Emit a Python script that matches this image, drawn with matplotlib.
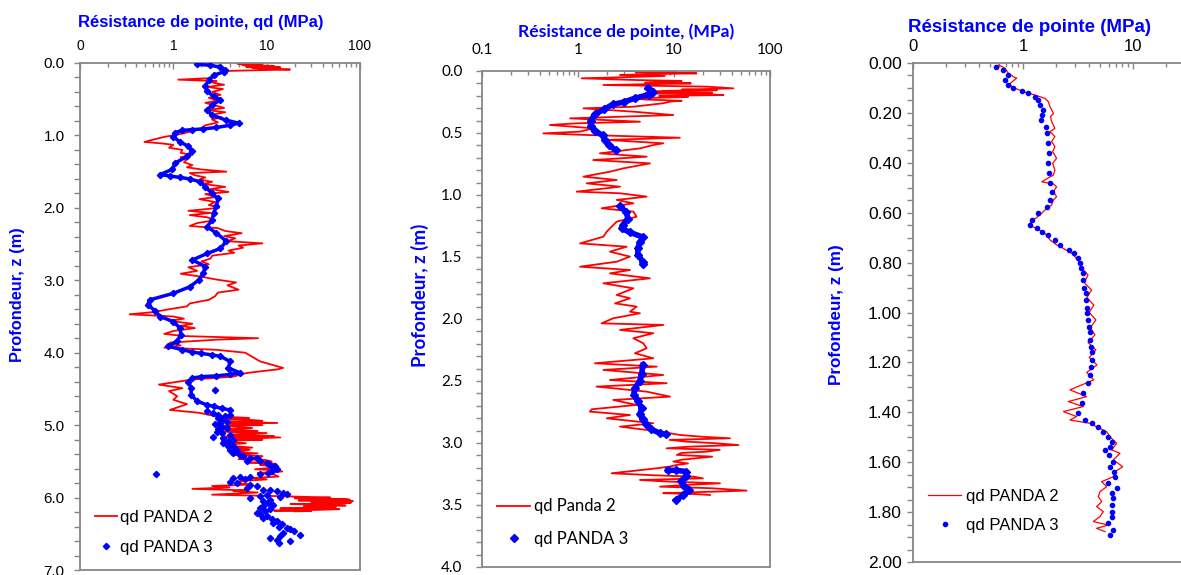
import numpy as np
import matplotlib
matplotlib.use('Agg')
import matplotlib.pyplot as plt
from matplotlib.ticker import LogLocator, FixedLocator, MultipleLocator, FixedFormatter, NullFormatter, FormatStrFormatter

# ---------------- DATA ----------------
# Panel 1 : PANDA 2 (red line)
p1_red_z = [0.00,0.01,0.02,0.03,0.04,0.05,0.06,0.07,0.08,0.09,0.11,0.14,0.17,0.19,0.21,0.23,0.25,0.27,0.30,0.33,
            0.36,0.40,0.44,0.48,0.52,0.55,0.58,0.62,0.65,0.68,0.72,0.75,0.78,0.82,0.86,0.90,0.94,0.98,1.02,1.06,
            1.09,1.11,1.13,1.17,1.20,1.24,1.27,1.30,1.33,1.37,1.41,1.44,1.47,1.50,1.52,1.55,1.58,1.61,1.64,1.67,
            1.71,1.74,1.78,1.81,1.85,1.88,1.92,1.96,2.00,2.04,2.07,2.10,2.13,2.17,2.21,2.25,2.28,2.32,2.35,2.39,
            2.42,2.46,2.49,2.52,2.55,2.59,2.62,2.66,2.70,2.74,2.78,2.82,2.87,2.91,2.95,2.99,3.03,3.07,3.13,3.17,
            3.22,3.27,3.32,3.36,3.40,3.44,3.47,3.50,3.53,3.56,3.60,3.63,3.66,3.70,3.74,3.77,3.80,3.82,3.86,3.90,
            3.93,3.96,4.00,4.12,4.21,4.23,4.28,4.33,4.37,4.44,4.49,4.53,4.60,4.65,4.71,4.79,4.83,4.88,
            4.90,4.91,4.92,4.94,4.95,4.97,4.98,5.00,5.01,5.02,5.04,5.06,5.08,5.09,5.11,5.13,5.15,5.16,5.17,5.19,
            5.20,5.22,5.25,5.27,5.29,5.31,5.32,5.34,5.37,5.39,5.41,5.43,5.45,5.47,5.48,5.50,5.52,5.53,5.55,5.57,
            5.59,5.61,5.62,5.64,5.66,5.68,5.71,5.73,5.75,5.77,5.80,5.82,5.84,5.86,5.88,5.90,5.91,5.93,5.96,5.98,
            6.00,6.01,6.02,6.03,6.04,6.05,6.06,6.07,6.08,6.09,6.10,6.11,6.12,6.13,6.14,6.15,6.16,6.17,6.18,6.185,6.19]
p1_red_qd = [6.6,4.9,9.0,5.5,12,6.0,14,7.0,10,17.8,3.6,3.2,2.6,2.9,2.4,1.13,2.9,2.6,3.5,2.3,
             3.4,2.6,3.2,2.4,3.0,2.2,2.7,3.5,2.3,3.6,2.5,3.3,2.6,3.0,2.2,2.0,1.6,1.2,0.8,0.6,
             0.49,0.75,1.0,0.9,1.25,1.2,1.6,1.2,1.4,1.3,1.6,1.4,2.0,3.7,1.5,1.7,2.2,1.9,2.6,2.1,
             3.6,2.5,3.9,2.2,2.9,1.9,2.8,2.4,3.1,1.45,2.5,1.5,2.3,2.8,1.8,1.5,3.0,3.6,5.4,3.5,
             4.6,3.8,9.0,5.0,5.6,3.9,4.5,2.6,2.5,2.0,2.4,1.45,1.8,1.2,2.0,2.9,4.7,3.8,5.0,3.0,
             2.8,2.4,1.5,1.4,0.9,0.6,0.34,1.0,1.3,0.9,1.6,1.2,1.7,1.0,0.8,1.3,8.1,2.9,0.92,1.2,
             0.8,2.9,5.9,8.5,15,13,6.1,4.4,1.6,0.7,1.25,0.9,1.1,1.0,1.4,0.92,1.9,2.9,
             6.5,3.2,5.6,9.0,3.5,13,4.0,9.0,3.0,4.4,7.0,3.4,8.0,3.2,10,4.0,12,3.5,14,4.5,
             9.0,3.3,6.0,3.6,4.4,7.0,3.8,6.6,4.5,8.0,4.2,9.0,7.8,5.0,9.5,11.3,6.0,12,8.5,13,
             10.9,7.5,12,14.7,8.0,12,13.4,7.0,10,5.5,4.8,7.0,2.6,4.0,1.6,6.0,4.4,8.0,2.6,13,
             48,20,70,78,22,84,30,80,60,18,50,70,25,55,45,14,60,35,12,30,20]

# Panel 1 : PANDA 3 (blue points, continuous part)
p1_blue_z = [0.02,0.03,0.06,0.10,0.12,0.17,0.23,0.32,0.39,0.46,0.51,0.58,0.65,0.72,0.79,0.83,0.86,0.89,0.91,0.92,
             0.93,0.96,1.02,1.09,1.15,1.22,1.29,1.38,1.47,1.54,1.56,1.58,1.60,1.64,1.71,1.80,1.87,1.98,2.07,2.17,
             2.26,2.35,2.46,2.56,2.63,2.72,2.81,2.90,2.99,3.09,3.18,3.27,3.34,3.42,3.50,3.57,3.66,3.75,3.84,3.91,
             3.96,3.99,4.01,4.03,4.05,4.12,4.21,4.28,4.30,4.32,4.33,4.35,4.40,4.49,4.58,4.67,4.72,4.74,4.77,4.79]
p1_blue_qd = [1.8,2.5,3.2,3.6,3.5,2.7,2.4,2.2,2.3,2.7,3.2,2.6,2.3,2.6,3.7,5.0,4.05,2.9,2.1,1.6,
              1.25,1.05,1.0,1.18,1.45,1.6,1.4,1.05,0.97,0.72,0.92,1.18,1.5,1.93,2.2,2.6,3.0,2.9,2.7,2.6,
              2.3,2.9,3.7,3.2,2.3,1.6,2.2,2.1,1.9,1.5,1.0,0.56,0.53,0.64,0.72,1.0,1.18,1.2,1.1,0.88,
              1.25,1.6,2.0,2.6,3.2,4.05,3.9,5.2,4.05,2.9,2.0,1.6,1.45,1.55,1.55,1.8,2.3,2.7,3.3,4.05]
# Panel 1 : PANDA 3 (blue points, scattered deep part)
p1_scat_z = [4.52,4.81,4.83,4.86,4.86,4.88,4.90,4.92,4.95,4.97,4.99,5.02,5.04,5.06,5.09,5.11,5.13,5.16,5.18,5.20,
             5.22,5.25,5.27,5.29,5.32,5.34,5.36,5.38,5.41,5.43,5.45,5.46,5.49,5.50,5.52,5.55,5.57,5.59,5.61,5.64,
             5.66,5.68,5.68,5.71,5.72,5.73,5.75,5.78,5.80,5.82,5.84,5.87,5.89,5.90,5.91,5.94,5.95,5.96,5.98,5.99,
             6.00,6.03,6.05,6.07,6.10,6.12,6.14,6.16,6.19,6.21,6.23,6.26,6.28,6.30,6.33,6.35,6.37,6.40,6.42,6.44,
             6.46,6.49,6.51,6.53,6.56,6.58,6.60,6.63]
p1_scat_qd = [2.8,2.28,2.69,3.04,4.05,3.58,3.04,3.30,3.73,3.17,2.80,3.30,3.73,3.04,2.92,3.30,4.05,2.69,3.44,4.40,
              3.89,3.44,4.22,3.89,4.58,4.05,4.78,4.40,5.19,5.63,6.64,7.83,6.11,8.50,10.0,10.9,12.3,11.8,12.8,11.3,
              10.4,8.50,0.66,6.64,5.19,4.40,5.87,4.05,4.78,6.64,7.83,6.11,9.23,10.9,12.8,15.1,16.4,10.0,8.50,13.9,
              6.64,10.9,9.23,10.4,11.8,9.23,8.50,10.9,9.61,7.83,8.50,10.0,9.23,11.3,12.8,11.8,14.5,13.4,16.4,17.8,
              19.4,15.1,22.8,13.9,10.9,12.8,17.8,13.4]

# Panel 2 : PANDA 2 (red line)
p2_red_z = [0.00,0.005,0.01,0.015,0.019,0.025,0.032,0.04,0.05,0.059,0.073,0.08,0.086,0.095,0.10,0.113,0.126,0.14,0.15,0.155,
            0.16,0.167,0.175,0.18,0.185,0.194,0.20,0.21,0.22,0.23,0.24,0.247,0.26,0.288,0.301,0.328,0.355,0.382,
            0.409,0.422,0.435,0.462,0.489,0.503,0.516,0.538,0.556,0.583,0.597,0.624,0.664,0.691,0.718,0.745,0.785,0.812,0.852,0.879,
            0.906,0.933,0.973,0.986,1.013,1.04,1.067,1.107,1.134,1.175,1.215,1.242,1.296,1.336,1.39,1.417,1.457,1.497,1.538,1.578,
            1.605,1.632,1.672,1.712,1.753,1.806,1.833,1.874,1.90,1.941,1.954,1.994,2.035,2.048,2.088,2.115,2.155,2.196,2.236,2.276,
            2.317,2.357,2.384,2.411,2.451,2.492,2.518,2.545,2.586,2.626,2.653,2.693,2.728,2.747,2.774,2.801,2.841,2.868,2.908,2.935,
            2.95,2.962,2.975,2.989,3.00,3.016,3.03,3.043,3.055,3.07,3.08,3.096,3.11,3.123,3.135,3.15,3.165,3.177,3.19,3.204,
            3.244,3.26,3.271,3.285,3.298,3.31,3.325,3.34,3.352,3.365,3.384,3.395,3.405,3.41,3.419]
p2_red_qd = [2.97,10.7,4.0,9.0,17.2,6.0,2.74,8.0,3.0,1.09,4.08,12,7.74,5.0,15,1.84,21.9,41.5,12,28,
             8.0,6.09,25,5.0,18,32.7,7.0,14,3.48,5.0,12,9.08,7.74,3.77,1.14,3.77,9.84,0.825,
             4.42,0.97,0.51,1.44,1.05,0.435,1.23,11.5,1.99,7.74,6.09,4.42,1.69,5.19,1.44,5.62,2.97,2.15,1.14,2.53,
             1.23,2.74,0.97,2.74,5.19,2.53,3.77,1.76,3.77,4.08,2.53,2.33,1.99,1.84,1.05,3.21,2.15,3.48,2.53,1.05,
             3.48,2.15,5.62,1.84,3.77,2.53,3.48,2.43,4.08,3.48,4.42,2.33,1.76,7.74,2.74,6.09,3.77,4.79,5.19,3.92,
             6.09,1.50,6.60,1.84,7.74,2.15,8.39,1.56,5.19,9.08,2.33,4.08,1.39,1.33,3.48,1.99,6.09,2.74,7.15,11.5,
             20,38.3,9.0,13.5,25,46.8,14,8.39,30,21.9,12,10.7,25,17.2,12,9.84,14,10.7,9.0,6.60,
             2.24,6.0,15.9,20,4.42,8.0,30.1,12,7.15,25,57.1,20,7.74,15,23.7]

# Panel 2 : PANDA 3 (blue points, nan separates the test runs)
p2_blue_z = [0.14,0.17,0.19,0.22,0.25,0.27,0.31,0.35,0.40,0.44,0.48,0.52,0.56,0.60,0.64, np.nan,
             1.09,1.14,1.19,1.24,1.27,1.30,1.34,1.38,1.43,1.48,1.54,1.56, np.nan,
             2.37,2.44,2.50,2.56,2.61,2.66,2.72,2.77,2.81,2.85,2.89,2.92,2.93, np.nan,
             3.22,3.22,3.23,3.27,3.31,3.35,3.38,3.42,3.46]
p2_blue_qd = [5.3,6.0,5.5,3.9,3.0,2.3,1.85,1.5,1.35,1.35,1.5,1.8,1.9,2.1,2.5, np.nan,
              2.74,3.2,3.3,2.95,2.85,3.45,4.75,4.4,4.2,4.2,4.75,4.8, np.nan,
              4.75,4.6,4.4,3.9,3.8,4.2,4.6,4.4,4.75,5.1,5.8,7.1,8.3, np.nan,
              8.6,10.5,13.3,13.3,11.8,12.8,14.5,12.4,10.5]

# Panel 3 : PANDA 2 (red line)
p3_red_z = [0.008,0.021,0.041,0.055,0.061,0.082,0.095,0.115,0.128,0.142,0.155,0.175,0.202,0.215,0.235,0.262,0.275,0.295,0.315,0.335,
            0.355,0.382,0.402,0.429,0.449,0.476,0.485,0.496,0.516,0.536,0.549,0.569,0.589,0.609,0.629,0.649,0.663,0.683,0.709,0.729,
            0.743,0.763,0.79,0.82,0.85,0.88,0.91,0.94,0.97,1.00,1.03,1.06,1.09,1.12,1.15,1.18,1.21,1.24,1.27,1.31,
            1.337,1.357,1.377,1.397,1.417,1.431,1.444,1.458,1.478,1.498,1.524,1.551,1.564,1.591,1.618,1.638,1.658,1.678,1.698,1.718,
            1.738,1.758,1.778,1.798,1.818,1.838,1.852,1.865,1.878]
p3_red_qd = [0.60,0.686,0.736,0.817,0.876,0.762,0.789,1.007,1.28,1.585,1.70,1.76,1.89,1.78,1.82,1.95,1.76,1.95,1.82,1.95,
             1.86,2.02,1.86,1.95,1.89,1.48,1.89,2.02,1.89,2.02,1.89,1.82,1.585,1.43,1.24,1.118,1.33,1.585,1.76,2.02,
             2.33,2.77,3.18,3.4,3.9,3.6,4.2,3.8,4.4,4.0,4.6,4.1,4.5,3.9,4.6,4.0,4.7,3.8,4.4,2.67,
             3.79,2.58,3.53,2.33,3.07,2.67,4.06,4.67,5.76,6.18,7.1,6.40,7.62,6.63,8.06,6.86,6.63,5.19,5.76,5.01,
             4.84,5.19,4.67,5.37,5.01,4.36,5.97,4.67,5.56]

# Panel 3 : PANDA 3 (blue points)
p3_blue_z = [0.015,0.028,0.048,0.068,0.088,0.102,0.111,0.122,0.135,0.148,0.168,0.188,0.208,0.228,0.255,0.282,0.322,0.362,0.402,0.442,
             0.482,0.516,0.549,0.576,0.603,0.629,0.649,0.663,0.676,0.689,0.709,0.729,0.749,0.763,0.783,0.803,0.82,0.84,0.87,0.90,
             0.92,0.95,0.98,1.00,1.03,1.06,1.08,1.11,1.14,1.16,1.19,1.22,1.25,1.284,1.324,1.364,1.404,1.431,1.444,1.458,
             1.478,1.498,1.518,1.538,1.551,1.571,1.598,1.618,1.638,1.658,1.685,1.705,1.725,1.745,1.771,1.798,1.818,1.845,1.872,1.892]
p3_blue_qd = [0.568,0.66,0.736,0.686,0.736,0.817,0.97,1.118,1.28,1.38,1.43,1.53,1.48,1.45,1.62,1.67,1.70,1.74,1.70,1.74,
              1.76,1.82,1.76,1.64,1.38,1.20,1.16,1.33,1.48,1.70,1.95,2.17,2.6,2.9,3.18,3.3,3.4,3.5,3.5,3.6,
              3.7,3.7,3.8,3.85,3.9,4.0,4.05,4.1,4.15,4.2,4.2,4.15,4.1,3.92,3.53,3.41,3.18,3.66,4.21,4.84,
              5.37,5.97,6.40,6.18,5.56,6.1,6.63,6.18,6.7,6.86,5.97,7.1,6.40,6.63,6.40,6.40,6.40,5.97,6.63,6.18]

x_ticks = [0.1, 1, 10, 100]
x_labels_a = ['0', '1', '10', '100']
x_labels_b = ['0.1', '1', '10', '100']
x_labels_c = ['0', '1', '10', '']

# ---------------- FIGURE ----------------
W, H = 1181, 575
fig = plt.figure(figsize=(W / 100, H / 100), dpi=100)
GRAY = '#868686'
RED = '#ff0000'
BLUE = '#0000ff'
ARIAL = 'Liberation Sans'
CAL = 'Lato'


def px_axes(l, t, r, b):
    return fig.add_axes([l / W, 1 - b / H, (r - l) / W, (b - t) / H])


def style(ax, ymax, ymaj, ymin, yfmt, xlabels, font, xsize, ysize, xpad, ypad):
    ax.set_xscale('log')
    ax.set_xlim(0.1, 100)
    ax.set_ylim(ymax, 0)
    ax.xaxis.tick_top()
    ax.xaxis.set_major_locator(FixedLocator(x_ticks))
    ax.xaxis.set_major_formatter(FixedFormatter(xlabels))
    ax.xaxis.set_minor_locator(LogLocator(base=10, subs=tuple(range(2, 10))))
    ax.xaxis.set_minor_formatter(NullFormatter())
    ax.yaxis.set_major_locator(MultipleLocator(ymaj))
    ax.yaxis.set_minor_locator(MultipleLocator(ymin))
    ax.yaxis.set_major_formatter(FormatStrFormatter(yfmt))
    ax.tick_params(axis='x', which='both', direction='in', top=True, bottom=False,
                   color=GRAY, width=1, pad=xpad, labelsize=xsize)
    ax.tick_params(axis='x', which='major', length=4)
    ax.tick_params(axis='x', which='minor', length=3)
    ax.tick_params(axis='y', which='both', direction='out', color=GRAY, width=1,
                   length=4, pad=ypad, labelsize=ysize)
    for lab in ax.get_xticklabels() + ax.get_yticklabels():
        lab.set_fontfamily(font)
    for s in ax.spines.values():
        s.set_color(GRAY)
        s.set_linewidth(1.3)


# Panel 1
ax1 = px_axes(80, 63, 360, 570)
style(ax1, 7.0, 1.0, 0.2, '%.1f', x_labels_a, ARIAL, 10, 11, 7, 7)
ax1.plot(p1_red_qd, p1_red_z, color=RED, lw=1.3, label='qd PANDA 2', zorder=2)
ax1.plot(p1_blue_qd, p1_blue_z, color=BLUE, lw=2.5, zorder=3)
ax1.plot(p1_blue_qd, p1_blue_z, 'D', color=BLUE, ms=3.2, ls='none', label='qd PANDA 3', zorder=3)
ax1.plot(p1_scat_qd, p1_scat_z, 'D', color=BLUE, ms=3.2, ls='none', zorder=3)
fig.text(201 / W, 1 - 22 / H, 'Résistance de pointe, qd (MPa)', color=BLUE, fontweight='bold',
         fontsize=12, family=ARIAL, ha='center', va='center')
fig.text(18 / W, 1 - 295 / H, 'Profondeur, z (m)', color=BLUE, fontweight='bold',
         fontsize=11.8, family=ARIAL, ha='center', va='center', rotation=90)
ax1.legend(loc='lower left', bbox_to_anchor=(0.0, 0.0), frameon=False, handlelength=1.3,
           handletextpad=0.2, labelspacing=0.9, prop={'family': ARIAL, 'size': 12})

# Panel 2
ax2 = px_axes(482, 71, 770, 567)
style(ax2, 4.0, 0.5, 0.1, '%.1f', x_labels_b, CAL, 11, 11, 10, 10)
ax2.plot(p2_red_qd, p2_red_z, color=RED, lw=1.3, label='qd Panda 2', zorder=2)
ax2.plot(p2_blue_qd, p2_blue_z, color=BLUE, lw=4, zorder=3)
ax2.plot(p2_blue_qd, p2_blue_z, 'D', color=BLUE, ms=4.5, ls='none', label='qd PANDA 3', zorder=3)
fig.text(626 / W, 1 - 32 / H, 'Résistance de pointe, (MPa)', color=BLUE, fontweight='bold',
         fontsize=12.6, family=CAL, ha='center', va='center')
fig.text(420 / W, 1 - 295 / H, 'Profondeur, z (m)', color=BLUE, fontweight='bold',
         fontsize=13.5, family=CAL, ha='center', va='center', rotation=90)
ax2.legend(loc='lower left', bbox_to_anchor=(0.0, 0.01), frameon=False, handlelength=2.0,
           handletextpad=0.2, labelspacing=1.0, prop={'family': CAL, 'size': 12})

# Panel 3 (extends beyond the right edge of the figure)
ax3 = px_axes(913, 63, 1243, 562)
style(ax3, 2.0, 0.2, 0.05, '%.2f', x_labels_c, ARIAL, 12, 12.5, 6.5, 4)
ax3.plot(p3_red_qd, p3_red_z, color=RED, lw=0.9, label='qd PANDA 2', zorder=2)
ax3.plot(p3_blue_qd, p3_blue_z, 'o', color=BLUE, ms=3, ls='none', label='qd PANDA 3', zorder=3)
fig.text(1029 / W, 1 - 28 / H, 'Résistance de pointe (MPa)', color=BLUE, fontweight='bold',
         fontsize=13.5, family=ARIAL, ha='center', va='center')
fig.text(836 / W, 1 - 315 / H, 'Profondeur, z (m)', color=BLUE, fontweight='bold',
         fontsize=12.3, family=ARIAL, ha='center', va='center', rotation=90)
ax3.legend(loc='lower left', bbox_to_anchor=(0.0, 0.028), frameon=False, handlelength=2.0,
           handletextpad=0.3, labelspacing=0.85, prop={'family': ARIAL, 'size': 12})

fig.savefig('out.png', dpi=100)
